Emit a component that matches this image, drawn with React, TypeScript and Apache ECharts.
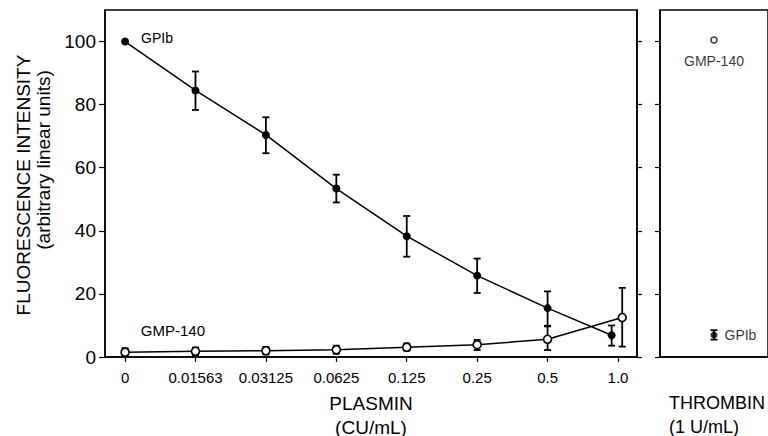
import React, { useEffect, useRef } from "react";
import * as echarts from "echarts";

const doseLabels = ["0", "0.01563", "0.03125", "0.0625", "0.125", "0.25", "0.5", "1.0"];
const doseIndex = [0, 1, 2, 3, 4, 5, 6, 7];
const yTicks = [0, 20, 40, 60, 80, 100];

const gpibX = [0, 1, 2, 3, 4, 5, 6, 6.91];
const gpibMean = [100, 84.5, 70.4, 53.4, 38.3, 25.8, 15.5, 6.9];
const gpibLow = [null, 78.3, 64.6, 49, 31.8, 20.3, 9.9, 3.6];
const gpibHigh = [null, 90.5, 76, 57.8, 44.7, 31.2, 20.8, 10];

const gmpX = [0, 1, 2, 3, 4, 5, 6, 7.06];
const gmpMean = [1.5, 1.8, 2.0, 2.3, 3.1, 3.9, 5.6, 12.5];
const gmpLow = [0.3, 0.6, 0.8, 1.0, 2.0, 2.2, 2.2, 3.3];
const gmpHigh = [2.8, 3.0, 3.2, 3.6, 4.3, 5.4, 9.7, 21.9];

const thrombinGpib = [7];
const thrombinGpibLow = [5.5];
const thrombinGpibHigh = [8.5];
const thrombinGmp = [100.5];

const FONT = "'Liberation Sans', Arial, Helvetica, sans-serif";

function errRender(params: any, api: any) {
  const x = api.value(0);
  const lo = api.value(1);
  const hi = api.value(2);
  const a = api.coord([x, hi]);
  const b = api.coord([x, lo]);
  const w = 3.5;
  const style = { stroke: "#000", lineWidth: 1.8 };
  return {
    type: "group",
    children: [
      { type: "line", shape: { x1: a[0], y1: a[1], x2: b[0], y2: b[1] }, style },
      { type: "line", shape: { x1: a[0] - w, y1: a[1], x2: a[0] + w, y2: a[1] }, style },
      { type: "line", shape: { x1: b[0] - w, y1: b[1], x2: b[0] + w, y2: b[1] }, style },
    ],
  };
}

export default function App() {
  const ref = useRef<HTMLDivElement>(null);
  useEffect(() => {
    if (!ref.current) return;
    const chart = echarts.init(ref.current, null, { renderer: "svg" });

    const gpibErr = gpibX
      .map((x, i) => [x, gpibLow[i], gpibHigh[i]])
      .filter((d) => d[1] !== null);
    const gmpErr = gmpX.map((x, i) => [x, gmpLow[i], gmpHigh[i]]);

    const gpibData: any[] = gpibX.map((x, i) => [x, gpibMean[i]]);
    gpibData[0] = {
      value: gpibData[0],
      label: { show: true, formatter: "GPIb", position: "right", distance: 12, offset: [0, -4], fontSize: 14, color: "#000", fontFamily: FONT },
    };
    const gmpData: any[] = gmpX.map((x, i) => [x, gmpMean[i]]);
    gmpData[0] = {
      value: gmpData[0],
      label: { show: true, formatter: "GMP-140", position: "right", distance: 11, offset: [0, -22], fontSize: 15, color: "#000", fontFamily: FONT },
    };

    const axisLineStyle = { color: "#000", width: 1.5 };
    const tickStyle = { color: "#000", width: 1.2 };

    chart.setOption({
      animation: false,
      backgroundColor: "#fff",
      textStyle: { fontFamily: FONT, color: "#000" },
      grid: [
        { left: 105, top: 10, width: 532, height: 347, show: true, borderColor: "#000", borderWidth: 1.5, backgroundColor: "transparent" },
        { left: 660, top: 10, width: 110, height: 347, show: true, borderColor: "#000", borderWidth: 1.5, backgroundColor: "transparent" },
      ],
      graphic: [
        {
          type: "text",
          x: 23,
          y: 185,
          rotation: Math.PI / 2,
          style: { text: "FLUORESCENCE INTENSITY", fontSize: 19, fontFamily: FONT, fill: "#000", align: "center", verticalAlign: "middle" },
        },
        {
          type: "text",
          x: 43,
          y: 160,
          rotation: Math.PI / 2,
          style: { text: "(arbitrary linear units)", fontSize: 19, fontFamily: FONT, fill: "#000", align: "center", verticalAlign: "middle" },
        },
        {
          type: "text",
          x: 371,
          y: 415,
          style: { text: "PLASMIN\n(CU/mL)", fontSize: 19, lineHeight: 24, fontFamily: FONT, fill: "#000", align: "center", verticalAlign: "middle" },
        },
        {
          type: "text",
          x: 669,
          y: 391,
          style: { text: "THROMBIN\n(1 U/mL)", fontSize: 18, lineHeight: 24, fontFamily: FONT, fill: "#000", align: "left", verticalAlign: "top" },
        },
      ],
      xAxis: [
        {
          gridIndex: 0,
          type: "value",
          min: -0.285,
          max: 7.27,
          splitLine: { show: false },
          axisLine: { show: true, onZero: false, lineStyle: axisLineStyle },
          axisTick: { show: true, customValues: doseIndex, length: 5, lineStyle: tickStyle },
          axisLabel: {
            customValues: doseIndex,
            formatter: (v: number) => doseLabels[Math.round(v)],
            fontSize: 15,
            color: "#000",
            margin: 13,
            fontFamily: FONT,
          },
        },
        {
          gridIndex: 1,
          type: "value",
          min: 0,
          max: 1,
          splitLine: { show: false },
          axisLine: { show: true, onZero: false, lineStyle: axisLineStyle },
          axisTick: { show: false },
          axisLabel: { show: false },
        },
      ],
      yAxis: [
        {
          gridIndex: 0,
          type: "value",
          min: 0,
          max: 110,
          splitLine: { show: false },
          axisLine: { show: true, onZero: false, lineStyle: axisLineStyle },
          axisTick: { show: true, customValues: yTicks, length: 6, lineStyle: tickStyle },
          axisLabel: { customValues: yTicks, fontSize: 19, color: "#000", margin: 9, fontFamily: FONT },
        },
        {
          gridIndex: 0,
          type: "value",
          position: "right",
          min: 0,
          max: 110,
          splitLine: { show: false },
          axisLine: { show: true, onZero: false, lineStyle: axisLineStyle },
          axisTick: { show: true, customValues: yTicks, length: 5, lineStyle: tickStyle },
          axisLabel: { show: false },
        },
        {
          gridIndex: 1,
          type: "value",
          min: 0,
          max: 110,
          splitLine: { show: false },
          axisLine: { show: true, onZero: false, lineStyle: axisLineStyle },
          axisTick: { show: true, customValues: yTicks, length: 5, lineStyle: tickStyle },
          axisLabel: { show: false },
        },
      ],
      series: [
        {
          type: "custom",
          name: "GPIb error",
          xAxisIndex: 0,
          yAxisIndex: 0,
          renderItem: errRender,
          data: gpibErr,
          z: 1,
          silent: true,
        },
        {
          type: "custom",
          name: "GMP-140 error",
          xAxisIndex: 0,
          yAxisIndex: 0,
          renderItem: errRender,
          data: gmpErr,
          z: 1,
          silent: true,
        },
        {
          type: "line",
          name: "GPIb",
          xAxisIndex: 0,
          yAxisIndex: 0,
          data: gpibData,
          symbol: "circle",
          symbolSize: 8,
          itemStyle: { color: "#000" },
          lineStyle: { color: "#000", width: 1.5 },
          z: 3,
        },
        {
          type: "line",
          name: "GMP-140",
          xAxisIndex: 0,
          yAxisIndex: 0,
          data: gmpData,
          symbol: "circle",
          symbolSize: 8,
          showAllSymbol: true,
          itemStyle: { color: "#fff", borderColor: "#000", borderWidth: 1.6 },
          lineStyle: { color: "#000", width: 1.5 },
          z: 3,
        },
        {
          type: "custom",
          name: "Thrombin GPIb error",
          xAxisIndex: 1,
          yAxisIndex: 2,
          renderItem: errRender,
          data: thrombinGpib.map((v, i) => [0.5, thrombinGpibLow[i], thrombinGpibHigh[i]]),
          z: 1,
          silent: true,
        },
        {
          type: "scatter",
          name: "Thrombin GPIb",
          xAxisIndex: 1,
          yAxisIndex: 2,
          data: thrombinGpib.map((v) => [0.5, v]),
          symbol: "circle",
          symbolSize: 7,
          itemStyle: { color: "#000" },
          label: { show: true, formatter: "GPIb", position: "right", distance: 7, fontSize: 14, color: "#000", fontFamily: FONT },
          z: 3,
        },
        {
          type: "scatter",
          name: "Thrombin GMP-140",
          xAxisIndex: 1,
          yAxisIndex: 2,
          data: thrombinGmp.map((v) => [0.5, v]),
          symbol: "circle",
          symbolSize: 6,
          itemStyle: { color: "#fff", borderColor: "#000", borderWidth: 1.5 },
          label: { show: true, formatter: "GMP-140", position: "bottom", distance: 10, fontSize: 14, color: "#000", fontFamily: FONT },
          z: 3,
        },
      ],
    });
    return () => chart.dispose();
  }, []);
  return <div ref={ref} style={{ position: "absolute", left: 0, top: 0, width: 768, height: 436 }} />;
}
